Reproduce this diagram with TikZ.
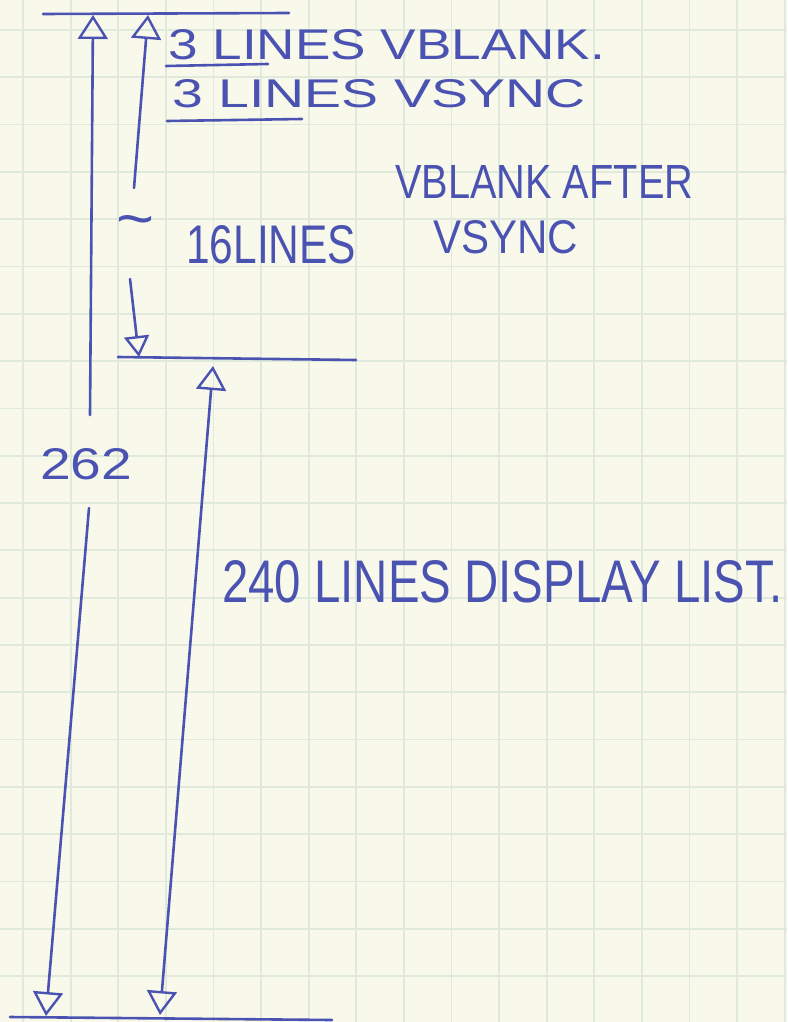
\documentclass[tikz,border=0pt]{standalone}
\usepackage{fontspec}
\setmainfont{Liberation Sans}
\usetikzlibrary{arrows.meta}
\definecolor{ink}{HTML}{4B53B2}
\definecolor{paper}{HTML}{F9F9EB}
\definecolor{gridc}{HTML}{DFEADC}
\newcommand\hwtext[3]{\resizebox{#1pt}{#2pt}{#3}}
\tikzset{
  hwtip/.tip={Triangle[open,length=24pt,width=30pt,line width=2.4pt]},
  hwsmalltip/.tip={Triangle[open,length=21pt,width=25pt,line width=2.4pt]}}
\begin{document}
\begin{tikzpicture}[x=1pt,y=-1pt,
  pen/.style={draw=ink,line width=2.6pt,line cap=round,line join=round},
  hw/.style={text=ink,inner sep=0pt,anchor=south west}]
\fill[paper] (0,0) rectangle (787,1022);
\useasboundingbox (0,0) rectangle (787,1022);
% graph paper
\foreach \i in {0,...,16} \draw[gridc,line width=1.8pt] ({23+47.6*\i},0) -- ({23+47.6*\i},1022);
\foreach \i in {0,...,21} \draw[gridc,line width=1.8pt] (0,{30+47.3*\i}) -- (787,{30+47.3*\i});
% reference lines
\coordinate (topL) at (43,14); \coordinate (topR) at (289,13);
\coordinate (midL) at (118,357); \coordinate (midR) at (356,360);
\coordinate (botL) at (10,1017); \coordinate (botR) at (332,1020);
\draw[pen] (topL) -- (topR);
\draw[pen] (midL) -- (midR);
\draw[pen] (botL) -- (botR);
% underlines
\coordinate (u1a) at (166,66); \coordinate (u1b) at (268,64);
\coordinate (u2a) at (167,121); \coordinate (u2b) at (302,119);
\draw[pen] (u1a) -- (u1b);
\draw[pen] (u2a) -- (u2b);
% texts
\node[hw] (vblank) at (168,60) {\hwtext{437}{30}{3 LINES VBLANK.}};
\node[hw] (vsync) at (172,108) {\hwtext{413}{28}{3 LINES VSYNC}};
\node[hw] (after1) at (395,199) {\hwtext{298}{33}{VBLANK AFTER}};
\node[hw] (after2) at (433,254) {\hwtext{145}{33}{VSYNC}};
\node[hw] (tilde) at (116,240) {\hwtext{38}{24}{\textasciitilde}};
\node[hw] (sixteen) at (186,264) {\hwtext{170}{38}{16LINES}};
\node[hw] (n262) at (40,480) {\hwtext{92}{31}{262}};
\node[hw] (disp) at (222,603) {\hwtext{560}{42}{240 LINES DISPLAY LIST.}};
% total frame: 262 lines
\coordinate (a1top) at (93,15); \coordinate (a1gapA) at (90,415);
\coordinate (a1gapB) at (89,508); \coordinate (a1bot) at (46,1016);
\draw[pen,-{hwtip}] (a1gapA) -- (a1top);
\draw[pen,-{hwtip}] (a1gapB) -- (a1bot);
% vblank + vsync
\coordinate (a2bot) at (134,188); \coordinate (a2top) at (148,15);
\draw[pen,-{hwtip}] (a2bot) -- (a2top);
% ~16 lines
\coordinate (a3from) at (130,279); \coordinate (a3tip) at (139,357);
\draw[pen,-{hwsmalltip}] (a3from) -- (a3tip);
% 240 lines display list
\coordinate (a4top) at (213,366); \coordinate (a4bot) at (160,1015);
\draw[pen,{hwtip}-{hwtip}] (a4bot) -- (a4top);
\end{tikzpicture}
\end{document}
